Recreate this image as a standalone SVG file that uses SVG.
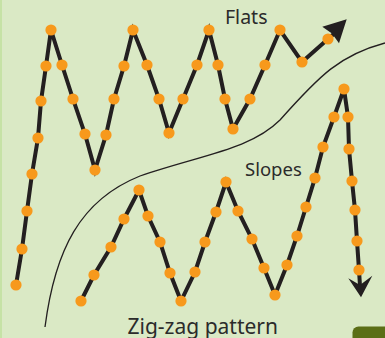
<svg xmlns="http://www.w3.org/2000/svg" width="385" height="338" viewBox="0 0 385 338">
<style>
.bg{fill:#dae9c5}
.edge{fill:#c6e2a6}
.path{fill:none;stroke:#231f20;stroke-width:4;stroke-linejoin:miter;stroke-linecap:butt}
.dot{fill:#f7991c}
.curve{fill:none;stroke:#231f20;stroke-width:1.3}
.head{fill:#231f20}
.lbl{font-family:"Noto Sans","Open Sans",sans-serif;fill:#2b2b2b}
</style>
<defs>
<circle id="d" r="5.6" class="dot"/>
</defs>
<rect class="bg" x="0" y="0" width="385" height="338"/>
<rect class="edge" x="0" y="0" width="2" height="338"/>
<rect x="352.5" y="326.5" width="50" height="30" rx="6" fill="#5b6e16"/>
<path class="curve" d="M45,327 C55,250 80,200 140,176 C200,155 250,150 280,120 C320,75 340,55 385,43"/>
<g id="flats-zigzag">
<polyline class="path" points="16,285 22,249 27,211 32,174 38,138 41,101 46,66 51,30 62,65 73,99 85,134 95,170 106,135 114,99 124,66 133,30 147,65 159,99 169,133 183,99 197,65 209,30 218,65 225,99 233,129 250,99 265,65 280,30 302,62 328,39 336,32"/>
<polygon class="head" points="322.3,26.7 346.7,19.3 339,43.3 332,33.5"/>
<g>
<use href="#d" x="16" y="285"/><use href="#d" x="22" y="249"/><use href="#d" x="27" y="211"/><use href="#d" x="32" y="174"/>
<use href="#d" x="38" y="138"/><use href="#d" x="41" y="101"/><use href="#d" x="46" y="66"/><use href="#d" x="51" y="30"/>
<use href="#d" x="62" y="65"/><use href="#d" x="73" y="99"/><use href="#d" x="85" y="134"/><use href="#d" x="95" y="170"/>
<use href="#d" x="106" y="135"/><use href="#d" x="114" y="99"/><use href="#d" x="124" y="66"/><use href="#d" x="133" y="30"/>
<use href="#d" x="147" y="65"/><use href="#d" x="159" y="99"/><use href="#d" x="169" y="133"/><use href="#d" x="183" y="99"/>
<use href="#d" x="197" y="65"/><use href="#d" x="209" y="30"/><use href="#d" x="218" y="65"/><use href="#d" x="225" y="99"/>
<use href="#d" x="233" y="129"/><use href="#d" x="250" y="99"/><use href="#d" x="265" y="65"/><use href="#d" x="280" y="30"/>
<use href="#d" x="302" y="62"/><use href="#d" x="328" y="39"/>
</g>
</g>
<g id="slopes-zigzag">
<polyline class="path" points="81,301 94,275 111,247 124,219 139,190 148,216 160,242 170,273 181,301 195,272 205,242 216,212 226,182 238,211 252,239 264,268 275,295 287,265 297,236 306,207 315,178 323,147 334,117 344,89 348,117 349,149 352,181 355,210 357,241 359,270 360,286"/>
<polygon class="head" points="348.3,278.3 360,285 372.3,275.7 361,297.3"/>
<g>
<use href="#d" x="81" y="301"/><use href="#d" x="94" y="275"/><use href="#d" x="111" y="247"/><use href="#d" x="124" y="219"/>
<use href="#d" x="139" y="190"/><use href="#d" x="148" y="216"/><use href="#d" x="160" y="242"/><use href="#d" x="170" y="273"/>
<use href="#d" x="181" y="301"/><use href="#d" x="195" y="272"/><use href="#d" x="205" y="242"/><use href="#d" x="216" y="212"/>
<use href="#d" x="226" y="182"/><use href="#d" x="238" y="211"/><use href="#d" x="252" y="239"/><use href="#d" x="264" y="268"/>
<use href="#d" x="275" y="295"/><use href="#d" x="287" y="265"/><use href="#d" x="297" y="236"/><use href="#d" x="306" y="207"/>
<use href="#d" x="315" y="178"/><use href="#d" x="323" y="147"/><use href="#d" x="334" y="117"/><use href="#d" x="344" y="89"/>
<use href="#d" x="348" y="117"/><use href="#d" x="349" y="149"/><use href="#d" x="352" y="181"/><use href="#d" x="355" y="210"/>
<use href="#d" x="357" y="241"/><use href="#d" x="359" y="270"/>
</g>
</g>
<g id="labels">
<text class="lbl" x="225" y="24" font-size="19.5">Flats</text>
<text class="lbl" x="245" y="176" font-size="18.5">Slopes</text>
<text class="lbl" x="127.5" y="334.3" font-size="21">Zig-zag pattern</text>
</g>
</svg>
